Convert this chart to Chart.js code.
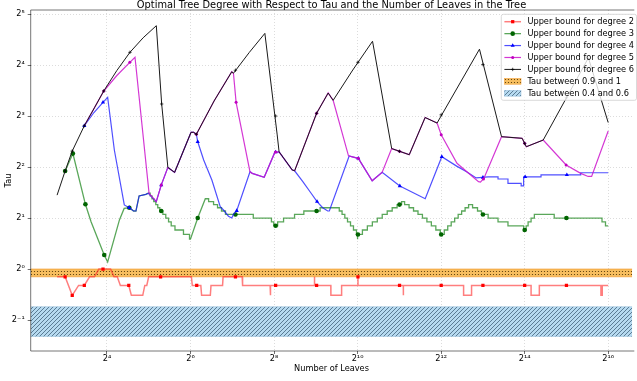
<!DOCTYPE html>
<html><head><meta charset="utf-8">
<script src="https://cdn.jsdelivr.net/npm/chart.js@4.4.1/dist/chart.umd.min.js"></script>
<style>html,body{margin:0;padding:0;background:#fff;}#wrap{width:637px;height:381px;}</style>
</head><body><div id="wrap"><canvas id="c" width="637" height="381"></canvas></div>
<script>
const titleText = 'Optimal Tree Degree with Respect to Tau and the Number of Leaves in the Tree';
const xLabel = 'Number of Leaves';
const yLabel = 'Tau';
const xTickExps = [4, 6, 8, 10, 12, 14, 16];
const yTickExps = [-1, 0, 1, 2, 3, 4, 5];
const seriesLabels = ['Upper bound for degree 2', 'Upper bound for degree 3', 'Upper bound for degree 4', 'Upper bound for degree 5', 'Upper bound for degree 6'];
const bandLabels = ['Tau between 0.9 and 1', 'Tau between 0.4 and 0.6'];
const bandHigh = [0.9, 1.0];
const bandLow = [0.4, 0.6];

// [leaves, tau]; a third element 1 = horizontal step first, then vertical
const deg2 = [[7,0.9],[8,0.9],[9,0.7],[10,0.8],[11,0.8],[12,0.9],[13,0.9],[14,1.0],[17,1.0],[18,0.9],[19,0.9],[20,0.8],[23,0.8],[24,0.7],[28,0.7],[29,0.7],[30,0.8],[31,0.8],[32,0.9],
 [65,0.9],[66,0.8],[76,0.8],[77,0.7],[89,0.7],[90,0.8],[109,0.8],[110,0.9],[151,0.9],[152,0.8],[240,0.8],[241,0.7],[242,0.8],[500,0.8],[501,0.9],[502,0.8],
 [657,0.8],[658,0.7],[785,0.7],[786,0.8],[1030,0.8],[1031,0.9],[1032,0.8],[2188,0.8],[2190,0.7],[2192,0.8],[5949,0.8],[5950,0.7],[6789,0.7],[6790,0.8],
 [18229,0.8],[18230,0.7],[20909,0.7],[20910,0.8],[58100,0.8],[58110,0.7],[59390,0.7],[59400,0.8],[65536,0.8]];
const deg2Marks = [[8,0.9],[9,0.7],[11,0.8],[15,1.0],[23,0.8],[39,0.9],[71,0.8],[135,0.9],[263,0.8],[519,0.8],[1031,0.9],[2055,0.8],[4103,0.8],[8199,0.8],[16391,0.8],[32775,0.8]];

const deg3 = [[8,3.79],[9.1,4.8],[11.2,2.41],[12.3,1.9],[15.3,1.21],[16.2,1.1],[19.7,1.95],[21.3,2.28],[23.2,2.3],[24.9,2.2],[25.9,2.2],[27.3,2.7],[30.5,2.76],[31.8,2.8],
 [32.8,2.7,1],[33.8,2.6,1],[34.8,2.5,1],[36,2.4,1],[37.2,2.3,1],[38.5,2.2,1],[40.5,2.1,1],[42.5,2.0,1],[44.5,1.9,1],[46.5,1.8,1],[49.5,1.7,1],[57,1.6,1],[63,1.5,1],[64,1.5],
 [72.2,2.0],[81.9,2.6],[86.5,2.5,1],[93.9,2.4,1],[100.3,2.3,1],[107.1,2.2,1],[114.4,2.1,1],[181.5,2.0,1],[245.3,1.9,1],[255,1.8,1],[272,1.9,1],[300,2.0,1],[360,2.1,1],[420,2.2,1],[550,2.3,1],
 [756,2.2,1],[792,2.1,1],[829,2.0,1],[867,1.9,1],[911,1.8,1],[957,1.7,1],[1006,1.6,1],[1023,1.5,1],[1025,1.6,1],
 [1110,1.7,1],[1205,1.8,1],[1309,1.9,1],[1421,2.0,1],[1542,2.1,1],[1675,2.2,1],[1819,2.3,1],[1974,2.4,1],[2127,2.5,1],
 [2235,2.4,1],[2407,2.3,1],[2592,2.2,1],[2792,2.1,1],[3005,2.0,1],[3236,1.9,1],[3485,1.8,1],[3753,1.7,1],[4042,1.6,1],
 [4318,1.7,1],[4573,1.8,1],[4843,1.9,1],[5130,2.0,1],[5437,2.1,1],[5758,2.2,1],[6100,2.3,1],[6463,2.4,1],
 [6904,2.3,1],[7495,2.2,1],[8006,2.1,1],[8940,2.0,1],[10534,1.9,1],[12424,1.8,1],[16110,1.7,1],[16800,1.8,1],[17350,1.9,1],[18230,2.0,1],[19250,2.1,1],[26760,2.0,1],[59150,1.9,1],[62660,1.8,1],[65536,1.8]];
const deg3Marks = [[8,3.79],[9.1,4.8],[11.2,2.41],[15.3,1.21],[23.2,2.3],[39.4,2.2],[72.2,2.0],[135,2.1],[263,1.8],[519,2.2],[1031,1.6],[2055,2.4],[4103,1.6],[8199,2.1],[16391,1.7],[32775,2.0]];

const deg4 = [[11,7.01],[12.9,8.39],[15,9.64],[16.2,10.3],[18.1,5.04],[21.35,2.39],[23.2,2.3],[24.9,2.2],[25.9,2.2],[27.3,2.7],[30.5,2.76],[31.8,2.8],[36.3,2.5],[39.4,3.13],[44,3.98],[49.2,3.72],
 [64.6,6.41],[67.5,6.41],[70.6,6.24],[72.2,5.64],[79.7,4.4],[91.3,3.35],[104.9,2.33],[110.7,2.23],[120.2,2.05],[127,2.0],[130.6,2.1],[137.9,2.21],[171.9,3.75],[178.5,3.67],[217.5,3.48],[259.4,4.88],[278.5,4.92],
 [346.7,3.84],[360.5,3.8],[413,3.28],[474,2.8],[523,2.5],[574,2.3],[624,2.2],[641,2.2],[891,4.65],[955,4.58],[1037,4.5],[1305,3.32],[1539,3.72],[2065,3.09],[3147,2.6],[4144,4.6],[5303,4.05],[6251,3.75],[7330,3.45],[8940,3.5],
 [10534,3.4,1],[12424,3.2,1],[15463,3.1,1],[16110,3.5,1],[21500,3.6,1],[41530,3.7,1],[65536,3.7]];
const deg4Marks = [[11,7.01],[15,9.64],[23.2,2.3],[39.4,3.13],[72.2,5.64],[137.9,2.21],[263,4.9],[523,2.5],[1037,4.5],[2065,3.09],[4144,4.6],[8199,3.47],[16520,3.5],[33000,3.6]];

const deg5 = [[11,7.01],[13,8.94],[15.18,11.24],[18.87,13.87],[23.4,16.6],[25.5,17.77],[32.2,2.8],[36.3,2.5],[39.4,3.13],[44,3.98],[49.2,3.72],[64.6,6.41],[67.5,6.41],[70.6,6.24],[94.7,9.81],[127,14.6],[130.6,14.3],
 [136.5,9.64],[171.9,3.75],[178.5,3.67],[217.5,3.48],[259.4,4.88],[278.5,4.92],[346.7,3.84],[360.5,3.8],[519,8.3],[629,10.94],[683,9.9],[881,4.66],[955,4.58],[1037,4.5],[1305,3.32],[1539,3.72],
 [1804,5.14],[2415,4.73],[3142,7.84],[3830,7.27],[4103,6.2],[5330,4.21],[7620,3.28],[7873,3.26],[8340,3.44],[11165,6.04],[15720,5.91],[16840,5.27],[22290,5.77],[32600,4.11],[41530,3.67],[47000,3.52],[49780,3.52],[65536,6.52]];
const deg5Marks = [[15.18,11.24],[23.4,16.6],[39.4,3.13],[70.6,6.24],[136.5,9.64],[263,4.9],[519,8.3],[1037,4.5],[2055,4.95],[4103,6.2],[8272,3.4],[16391,5.52],[32600,4.11]];

const deg6 = [[7,2.73],[8,3.79],[9,4.97],[11,7.01],[13,8.94],[15.18,11.24],[18.87,14.85],[23.44,19.01],[29.18,23.16],[36.32,27.3],[39.7,9.42],[44,3.98],[49.2,3.72],[64.6,6.41],[67.5,6.41],[70.6,6.24],
 [94.7,9.81],[127,14.6],[130.6,14.3],[170,19.0],[220,24.6],[269.5,6.26],[278.5,4.92],[346.7,3.84],[360.5,3.8],[519,8.3],[629,10.94],[683,9.9],[946,14.95],[1313,22.1],[1804,5.14],[2415,4.73],[3142,7.84],[3830,7.27],
 [7744,19.84],[11165,6.04],[15720,5.91],[16840,5.27],[22290,5.77],[47200,17.64],[65536,7.32]];
const deg6Marks = [[8,3.79],[9,4.97],[11,7.01],[15.18,11.24],[23.44,19.01],[39.7,9.42],[70.6,6.24],[135,14.9],[263,8.0],[519,8.3],[1031,16.6],[2055,4.95],[4103,8.13],[8199,16.1],[16391,5.52],[32775,10.25]];

const xMin = 4.518, xMax = 97766, yMin = 0.3283, yMax = 33.79;

const FONT = 'DejaVu Sans';
Chart.defaults.font.family = FONT;
Chart.defaults.color = '#000';

const ctx0 = document.getElementById('c').getContext('2d');
function hatchDiag(bg, fg, step) {
  const c = document.createElement('canvas'); c.width = step; c.height = step;
  const g = c.getContext('2d');
  g.fillStyle = bg; g.fillRect(0, 0, step, step);
  g.strokeStyle = fg; g.lineWidth = 0.8;
  g.beginPath();
  g.moveTo(-1, step + 1); g.lineTo(step + 1, -1);
  g.moveTo(-1, 1); g.lineTo(1, -1);
  g.moveTo(step - 1, step + 1); g.lineTo(step + 1, step - 1);
  g.stroke();
  return ctx0.createPattern(c, 'repeat');
}
function hatchDots(bg, fg, step) {
  const c = document.createElement('canvas'); c.width = step; c.height = step;
  const g = c.getContext('2d');
  g.fillStyle = bg; g.fillRect(0, 0, step, step);
  g.fillStyle = fg;
  g.beginPath(); g.arc(step / 2, step / 2, 0.6, 0, Math.PI * 2); g.fill();
  return ctx0.createPattern(c, 'repeat');
}
const orangeFill = hatchDots('rgb(247,190,95)', 'rgba(70,45,0,0.95)', 3);
const blueFill = hatchDiag('rgb(182,218,240)', 'rgba(40,70,95,0.8)', 4);

function toPoints(arr) {
  const out = []; let prev = null;
  for (const p of arr) {
    if (p[2] && prev) out.push({x: p[0], y: prev[1]});
    out.push({x: p[0], y: p[1]});
    prev = p;
  }
  return out;
}
function marks(arr) { return arr.map(p => ({x: p[0], y: p[1]})); }

const styles = [
  {data: deg2, mk: deg2Marks, line: 'rgba(255,40,40,0.6)', lw: 1.5, fill: '#ff0000', ps: 'rect', r: 2.3, bw: 0},
  {data: deg3, mk: deg3Marks, line: 'rgba(20,130,20,0.7)', lw: 1.3, fill: '#006400', ps: 'circle', r: 2.3, bw: 0},
  {data: deg4, mk: deg4Marks, line: 'rgba(20,20,255,0.75)', lw: 1.2, fill: '#0000ff', ps: 'triangle', r: 2.4, bw: 0},
  {data: deg5, mk: deg5Marks, line: 'rgba(205,20,205,0.85)', lw: 1.2, fill: '#c000c0', ps: 'circle', r: 1.5, bw: 0},
  {data: deg6, mk: deg6Marks, line: 'rgb(25,25,25)', lw: 1.0, fill: '#000', ps: 'cross', r: 1.7, bw: 0.7}
];

const datasets = [];
datasets.push({label: bandLabels[0], data: [{x: xMin, y: bandHigh[1]}, {x: xMax, y: bandHigh[1]}], fill: '+1', backgroundColor: orangeFill, borderColor: 'rgba(240,150,40,0.8)', borderWidth: 0.8, pointRadius: 0, order: 50});
datasets.push({label: '_b1', data: [{x: xMin, y: bandHigh[0]}, {x: xMax, y: bandHigh[0]}], fill: false, borderColor: 'rgba(240,150,40,0.8)', borderWidth: 0.8, pointRadius: 0, order: 49});
datasets.push({label: bandLabels[1], data: [{x: xMin, y: bandLow[1]}, {x: xMax, y: bandLow[1]}], fill: '+1', backgroundColor: blueFill, borderColor: 'rgba(120,170,210,0.6)', borderWidth: 0.6, pointRadius: 0, order: 48});
datasets.push({label: '_b2', data: [{x: xMin, y: bandLow[0]}, {x: xMax, y: bandLow[0]}], fill: false, borderColor: 'rgba(120,170,210,0.6)', borderWidth: 0.6, pointRadius: 0, order: 47});
styles.forEach((s, i) => {
  datasets.push({label: seriesLabels[i], data: toPoints(s.data), borderColor: s.line, borderWidth: s.lw, pointRadius: 0, fill: false, tension: 0, order: 40 - i * 2});
  datasets.push({label: '_m' + i, data: marks(s.mk), showLine: false, pointRadius: s.r, pointStyle: s.ps, pointBackgroundColor: s.fill, pointBorderColor: s.fill, pointBorderWidth: s.bw, order: 39 - i * 2});
});

const SUP = {'-': '\u207B', '0': '\u2070', '1': '\u00B9', '2': '\u00B2', '3': '\u00B3', '4': '\u2074', '5': '\u2075', '6': '\u2076', '7': '\u2077', '8': '\u2078', '9': '\u2079'};
function pow2Label(v) { const e = Math.round(Math.log2(v)); return '2' + String(e).split('').map(c => SUP[c]).join(''); }

function drawMarker(ctx, s, x, y) {
  ctx.fillStyle = s.fill; ctx.strokeStyle = s.fill; ctx.lineWidth = s.bw || 1;
  ctx.beginPath();
  if (s.ps === 'rect') { const a = s.r * Math.SQRT1_2; ctx.rect(x - a, y - a, 2 * a, 2 * a); ctx.fill(); }
  else if (s.ps === 'circle') { ctx.arc(x, y, s.r, 0, Math.PI * 2); ctx.fill(); }
  else if (s.ps === 'triangle') { const r = s.r; ctx.moveTo(x, y - r); ctx.lineTo(x + r * 0.866, y + r * 0.5); ctx.lineTo(x - r * 0.866, y + r * 0.5); ctx.closePath(); ctx.fill(); }
  else if (s.ps === 'cross') { ctx.moveTo(x - s.r, y); ctx.lineTo(x + s.r, y); ctx.moveTo(x, y - s.r); ctx.lineTo(x, y + s.r); ctx.stroke(); }
}

const mplLegend = {
  id: 'mplLegend',
  afterDatasetsDraw(chart) {
    const ctx = chart.ctx;
    const x0 = 501.3, y0 = 14.3, w = 135.2, h = 86.0, rr = 2;
    ctx.save();
    ctx.beginPath();
    ctx.moveTo(x0 + rr, y0); ctx.lineTo(x0 + w - rr, y0); ctx.quadraticCurveTo(x0 + w, y0, x0 + w, y0 + rr);
    ctx.lineTo(x0 + w, y0 + h - rr); ctx.quadraticCurveTo(x0 + w, y0 + h, x0 + w - rr, y0 + h);
    ctx.lineTo(x0 + rr, y0 + h); ctx.quadraticCurveTo(x0, y0 + h, x0, y0 + h - rr);
    ctx.lineTo(x0, y0 + rr); ctx.quadraticCurveTo(x0, y0, x0 + rr, y0); ctx.closePath();
    ctx.fillStyle = 'rgba(255,255,255,0.8)'; ctx.fill();
    ctx.strokeStyle = 'rgba(204,204,204,0.9)'; ctx.lineWidth = 0.8; ctx.stroke();
    const hx0 = 504.4, hx1 = 521, tx = 527.4;
    const labels = seriesLabels.concat(bandLabels);
    ctx.font = '8.22px "' + FONT + '"'; ctx.textBaseline = 'middle'; ctx.textAlign = 'left';
    labels.forEach((lab, i) => {
      const yc = 21.7 + i * 11.93;
      if (i < 5) {
        const s = styles[i];
        ctx.strokeStyle = s.line; ctx.lineWidth = s.lw;
        ctx.beginPath(); ctx.moveTo(hx0, yc); ctx.lineTo(hx1, yc); ctx.stroke();
        drawMarker(ctx, s, (hx0 + hx1) / 2, yc);
      } else {
        const fillP = i === 5 ? orangeFill : blueFill;
        ctx.fillStyle = fillP; ctx.fillRect(hx0, yc - 2.9, hx1 - hx0, 5.8);
        ctx.strokeStyle = i === 5 ? 'rgba(240,150,40,0.8)' : 'rgba(120,170,210,0.6)'; ctx.lineWidth = 0.6;
        ctx.strokeRect(hx0, yc - 2.9, hx1 - hx0, 5.8);
      }
      ctx.fillStyle = '#000';
      ctx.fillText(lab, tx, yc + 0.5);
    });
    ctx.restore();
  }
};

const frame = {
  id: 'frame',
  afterDraw(chart) {
    const {ctx, chartArea: a} = chart;
    ctx.save();
    ctx.strokeStyle = 'rgba(0,0,0,0.6)'; ctx.lineWidth = 0.9;
    ctx.beginPath();
    ctx.moveTo(a.right + 2, a.top); ctx.lineTo(a.left, a.top); ctx.lineTo(a.left, a.bottom); ctx.lineTo(a.right + 2, a.bottom);
    ctx.stroke();
    ctx.restore();
  }
};

new Chart(ctx0, {
  type: 'line',
  data: {datasets},
  plugins: [mplLegend, frame],
  options: {
    responsive: false, animation: false, devicePixelRatio: 1,
    layout: {padding: 0},
    events: [],
    plugins: {
      legend: {display: false}, tooltip: {enabled: false},
      title: {display: true, text: titleText, fullSize: false, color: '#000', font: {family: FONT, size: 9.86, weight: 'normal'}, padding: {top: -0.6, bottom: -1.23}}
    },
    scales: {
      x: {
        type: 'logarithmic', min: xMin, max: xMax, bounds: 'data',
        afterBuildTicks: (s) => { s.ticks = xTickExps.map(e => ({value: Math.pow(2, e)})); },
        afterFit: (s) => { s.height = 30; },
        ticks: {callback: (v) => pow2Label(v), font: {size: 8.22}, color: '#000', padding: 0, maxRotation: 0, autoSkip: false},
        grid: {color: 'rgba(0,0,0,0.2)', lineWidth: 0.7, tickLength: 3, tickColor: 'rgba(0,0,0,0.7)', tickWidth: 0.8},
        border: {display: false, dash: [1, 2]},
        title: {display: true, text: xLabel, font: {size: 8.22}, color: '#000', padding: {top: 0, bottom: 7.4}}
      },
      y: {
        type: 'logarithmic', min: yMin, max: yMax, bounds: 'data',
        afterBuildTicks: (s) => { s.ticks = yTickExps.map(e => ({value: Math.pow(2, e)})); },
        afterFit: (s) => { s.width = 30.7; },
        ticks: {callback: (v) => pow2Label(v), font: {size: 8.22}, color: '#000', padding: 3, autoSkip: false},
        grid: {color: 'rgba(0,0,0,0.2)', lineWidth: 0.7, tickLength: 3, tickColor: 'rgba(0,0,0,0.7)', tickWidth: 0.8},
        border: {display: false, dash: [1, 2]},
        title: {display: true, text: yLabel, font: {size: 8.22}, color: '#000', padding: {top: 3.8, bottom: 0}}
      }
    }
  }
});
</script>
</body></html>
